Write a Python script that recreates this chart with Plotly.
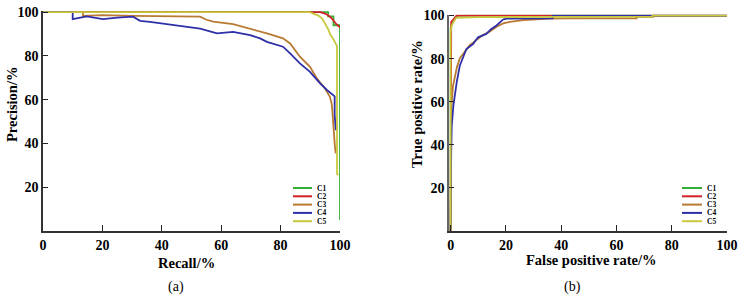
import plotly.graph_objects as go

# ---------------- data ----------------
series_names = ["C1", "C2", "C3", "C4", "C5"]
axis_ticks = [0, 20, 40, 60, 80, 100]
y_ticks = [20, 40, 60, 80, 100]

# (a) Precision-Recall curves
pr_c1_recall = [0, 96.0, 96.0, 97.8, 97.8, 100, 100]
pr_c1_prec = [100, 100, 98.0, 98.0, 94.0, 94.0, 5]

pr_c2_recall = [0, 93.3, 94.5, 95.6, 96.6, 97.6, 98.6, 99.4, 100]
pr_c2_prec = [100, 100, 99.5, 98.9, 97.9, 96.6, 94.7, 93.6, 93.0]

pr_c3_recall = [0, 13.5, 13.5, 20, 30.3, 40, 52.9, 55, 57.3, 64, 69.7, 75.4, 80.8, 83.2,
                86.5, 89.9, 92.2, 94.9, 96.6, 97.2, 97.4, 97.7, 98.0, 98.3, 98.6]
pr_c3_prec = [100, 100, 98.3, 98.6, 98.3, 98.0, 97.9, 96.5, 95.6, 94.5, 92.5, 90.3, 88.0, 85.7,
              79.6, 75.0, 69.7, 65.2, 61.3, 58.2, 55.1, 47.5, 41.4, 38.4, 35.5]

pr_c4_recall = [0, 10, 10, 14.7, 20.2, 25, 30.3, 32.7, 36, 41.8, 47.1, 52.9, 58.6, 64, 69.7,
                73.1, 75.4, 80.8, 83.2, 86.5, 89.9, 93.3, 95.6, 97.6, 98.2, 98.2, 98.6]
pr_c4_prec = [100, 100, 96.8, 98.0, 96.8, 97.5, 97.9, 96.0, 95.5, 94.5, 93.8, 92.5, 90.3, 91.0, 89.5,
              88.0, 86.4, 84.2, 81.1, 76.6, 72.7, 67.4, 64.4, 62.1, 61.5, 53.0, 46.0]

pr_c5_recall = [0, 89.9, 91.0, 92.7, 94.0, 95.1, 96.1, 96.7, 97.7, 98.6, 99.0, 99.0, 99.4]
pr_c5_prec = [100, 100, 99.3, 98.4, 97.0, 94.7, 92.0, 89.7, 87.8, 85.5, 84.5, 26.0, 25.5]

# (b) ROC curves
roc_c1_fpr = [0, 0, 0.5, 1.5, 2.5, 100]
roc_c1_tpr = [0, 94, 97, 99, 100, 100]

roc_c2_fpr = [0, 0, 0.2, 1.4, 2.1, 100]
roc_c2_tpr = [0, 95.6, 97.1, 98.7, 100, 100]

roc_c3_fpr = [0, 0, 0.1, 0.8, 1.5, 2.3, 3.3, 5.1, 6.9, 9.3, 11.7, 14.1, 16.6, 19, 21.4,
              26.2, 32.2, 35.9, 43.1, 67.3, 67.3, 73.3, 73.3, 100]
roc_c3_tpr = [0, 50, 53.8, 67.0, 70.9, 76.2, 80.1, 83.2, 86.3, 88.6, 91.0, 92.5, 94.8, 96.4, 97.1,
              97.9, 98.3, 98.6, 98.7, 98.7, 99.4, 99.4, 100, 100]

roc_c4_fpr = [0, 0, 0.2, 0.4, 1.0, 2.2, 3.3, 5.7, 8.1, 9.9, 12.9, 14.7, 16.6, 19, 20.2,
              36.9, 36.9, 100]
roc_c4_tpr = [0, 25, 37, 49, 58.3, 69.1, 76.7, 84.5, 86.8, 89.9, 91.5, 93.8, 95.4, 98.2, 98.6,
              98.7, 100, 100]

roc_c5_fpr = [0, 0, 0.3, 1.0, 2.0, 10, 40, 73, 73, 100]
roc_c5_tpr = [0, 92, 95, 97, 99, 99.3, 99.4, 99.5, 100, 100]

# ---------------- styling ----------------
colors = ["#35b035", "#d42028", "#b87a32", "#2f2fa8", "#c8c83e"]
W, H = 740, 301
SERIF = "Liberation Serif"

pr_sets = [(pr_c1_recall, pr_c1_prec), (pr_c2_recall, pr_c2_prec), (pr_c3_recall, pr_c3_prec),
           (pr_c4_recall, pr_c4_prec), (pr_c5_recall, pr_c5_prec)]
roc_sets = [(roc_c1_fpr, roc_c1_tpr), (roc_c2_fpr, roc_c2_tpr), (roc_c3_fpr, roc_c3_tpr),
            (roc_c4_fpr, roc_c4_tpr), (roc_c5_fpr, roc_c5_tpr)]

fig = go.Figure()
for name, col, (x, y) in zip(series_names, colors, pr_sets):
    fig.add_trace(go.Scatter(x=x, y=y, mode="lines", name=name, showlegend=False,
                             line=dict(color=col, width=1.8), xaxis="x", yaxis="y"))
for name, col, (x, y) in zip(series_names, colors, roc_sets):
    fig.add_trace(go.Scatter(x=x, y=y, mode="lines", name=name, showlegend=False,
                             line=dict(color=col, width=1.8), xaxis="x2", yaxis="y2"))


def px(xp):
    return xp / W


def py(yp):
    return (H - yp) / H


tickfont = dict(family=SERIF, size=14, color="black", weight="bold")
common_x = dict(tickmode="array", tickvals=axis_ticks, ticktext=[str(v) for v in axis_ticks],
                ticks="inside", ticklen=6, tickwidth=1.3, tickcolor="#222",
                showline=True, linecolor="#333", linewidth=1.6, showgrid=False, zeroline=False,
                tickfont=tickfont, fixedrange=True, automargin=False, ticklabeloverflow="allow")
common_y = dict(tickmode="array", tickvals=y_ticks, ticktext=[str(v) for v in y_ticks],
                ticks="inside", ticklen=5, tickwidth=1.3, tickcolor="#222",
                showline=True, linecolor="#333", linewidth=1.6, showgrid=False, zeroline=False,
                tickfont=tickfont, fixedrange=True, automargin=False, ticklabeloverflow="allow")

fig.update_layout(
    template="none",
    width=W, height=H, margin=dict(l=0, r=0, t=0, b=0, pad=0),
    paper_bgcolor="white", plot_bgcolor="white", showlegend=False,
    xaxis=dict(common_x, domain=[px(43), px(340)], range=[0, 100], anchor="y"),
    yaxis=dict(common_y, domain=[py(231), py(11)], range=[0, 100.5], anchor="x"),
    xaxis2=dict(common_x, domain=[px(449), px(727)], range=[-0.6, 100], anchor="y2"),
    yaxis2=dict(common_y, domain=[py(231), py(14.5)], range=[0, 100.5], anchor="x2",
                linecolor="#666"),
)

ann = []
title_font = dict(family=SERIF, size=14.5, color="black", weight="bold")
ann.append(dict(text="Recall/%", x=px(187), y=py(262.5), xref="paper", yref="paper",
                showarrow=False, font=title_font, xanchor="center", yanchor="middle"))
ann.append(dict(text="False positive rate/%", x=px(591), y=py(259.5), xref="paper", yref="paper",
                showarrow=False, font=title_font, xanchor="center", yanchor="middle"))
ann.append(dict(text="Precision/%", x=px(12), y=py(105), xref="paper", yref="paper",
                showarrow=False, font=title_font, textangle=-90, xanchor="center", yanchor="middle"))
ann.append(dict(text="True positive rate/%", x=px(417), y=py(104), xref="paper", yref="paper",
                showarrow=False, font=title_font, textangle=-90, xanchor="center", yanchor="middle"))
cap_font = dict(family=SERIF, size=14, color="black")
ann.append(dict(text="(a)", x=px(176), y=py(287), xref="paper", yref="paper",
                showarrow=False, font=cap_font, xanchor="center", yanchor="middle"))
ann.append(dict(text="(b)", x=px(572), y=py(287), xref="paper", yref="paper",
                showarrow=False, font=cap_font, xanchor="center", yanchor="middle"))

# hand-drawn compact legends (one per panel)
shapes = []
leg_font = dict(family=SERIF, size=7.5, color="black", weight="bold")
row_y = [188, 196.3, 204.6, 212.9, 221.2]
for (lx0, lx1, tx) in [(293, 312, 315), (682, 702, 705)]:
    for name, col, yy in zip(series_names, colors, row_y):
        shapes.append(dict(type="line", xref="paper", yref="paper",
                           x0=px(lx0), x1=px(lx1), y0=py(yy), y1=py(yy),
                           line=dict(color=col, width=2)))
        ann.append(dict(text=name, x=px(tx), y=py(yy), xref="paper", yref="paper",
                        showarrow=False, font=leg_font, xanchor="left", yanchor="middle"))

fig.update_layout(annotations=ann, shapes=shapes)
fig.write_html(
    "out.html",
    config={"displayModeBar": False},
    post_script="document.body.style.margin='0';document.body.style.overflow='hidden';",
)
